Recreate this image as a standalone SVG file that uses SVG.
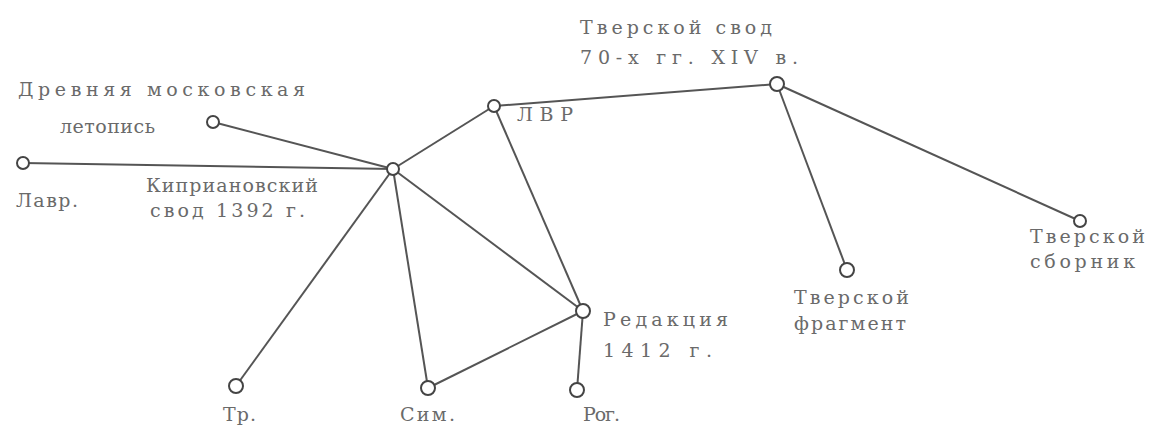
<svg xmlns="http://www.w3.org/2000/svg" width="1151" height="425" viewBox="0 0 1151 425">
<style>
.e{stroke:#555;stroke-width:2;fill:none}
.n{fill:#fff;stroke:#444;stroke-width:2}
.t{font-family:"DejaVu Serif","Liberation Serif",serif;font-size:19px;fill:#6a6a6a}
</style>
<rect width="1151" height="425" fill="#fff"/>
<g id="connectors">
<line class="e" x1="213" y1="122" x2="393" y2="169"/>
<line class="e" x1="23" y1="163" x2="393" y2="169"/>
<line class="e" x1="393" y1="169" x2="494" y2="106"/>
<line class="e" x1="494" y1="106" x2="777" y2="84"/>
<line class="e" x1="777" y1="84" x2="1080" y2="221"/>
<line class="e" x1="777" y1="84" x2="847" y2="270"/>
<line class="e" x1="494" y1="106" x2="583" y2="311"/>
<line class="e" x1="393" y1="169" x2="583" y2="311"/>
<line class="e" x1="393" y1="169" x2="236" y2="386"/>
<line class="e" x1="393" y1="169" x2="428" y2="388"/>
<line class="e" x1="428" y1="388" x2="583" y2="311"/>
<line class="e" x1="583" y1="311" x2="577" y2="390"/>
</g>
<g id="drevnyaya"><circle class="n" cx="213" cy="122" r="6"/><text class="t" x="18" y="96" textLength="287" lengthAdjust="spacing">Древняя московская</text><text class="t" x="60" y="133" textLength="95" lengthAdjust="spacing">летопись</text></g>
<g id="lavr"><circle class="n" cx="23" cy="163" r="6"/><text class="t" x="16" y="207" textLength="62" lengthAdjust="spacing">Лавр.</text></g>
<g id="kiprian"><circle class="n" cx="393" cy="169" r="6"/><text class="t" x="146" y="192" textLength="172" lengthAdjust="spacing">Киприановский</text><text class="t" x="150" y="217" textLength="155" lengthAdjust="spacing">свод 1392 г.</text></g>
<g id="lvr"><circle class="n" cx="494" cy="106" r="6"/><text class="t" x="517" y="121" textLength="56" lengthAdjust="spacing">ЛВР</text></g>
<g id="tver-svod"><circle class="n" cx="777" cy="84" r="7"/><text class="t" x="580" y="34" textLength="192" lengthAdjust="spacing">Тверской свод</text><text class="t" x="580" y="64" textLength="218" lengthAdjust="spacing">70-х гг. XIV в.</text></g>
<g id="tver-sbornik"><circle class="n" cx="1080" cy="221" r="6"/><text class="t" x="1030" y="243" textLength="115" lengthAdjust="spacing">Тверской</text><text class="t" x="1030" y="268" textLength="105" lengthAdjust="spacing">сборник</text></g>
<g id="tver-fragment"><circle class="n" cx="847" cy="270" r="7"/><text class="t" x="794" y="304" textLength="115" lengthAdjust="spacing">Тверской</text><text class="t" x="794" y="330" textLength="112" lengthAdjust="spacing">фрагмент</text></g>
<g id="redakciya"><circle class="n" cx="583" cy="311" r="7"/><text class="t" x="603" y="326" textLength="125" lengthAdjust="spacing">Редакция</text><text class="t" x="603" y="357" textLength="109" lengthAdjust="spacing">1412 г.</text></g>
<g id="tr"><circle class="n" cx="236" cy="386" r="7"/><text class="t" x="223" y="421" textLength="33" lengthAdjust="spacing">Тр.</text></g>
<g id="sim"><circle class="n" cx="428" cy="388" r="7"/><text class="t" x="400" y="421" textLength="55" lengthAdjust="spacing">Сим.</text></g>
<g id="rog"><circle class="n" cx="577" cy="390" r="7"/><text class="t" x="583" y="421" textLength="37" lengthAdjust="spacing">Рог.</text></g>
</svg>
